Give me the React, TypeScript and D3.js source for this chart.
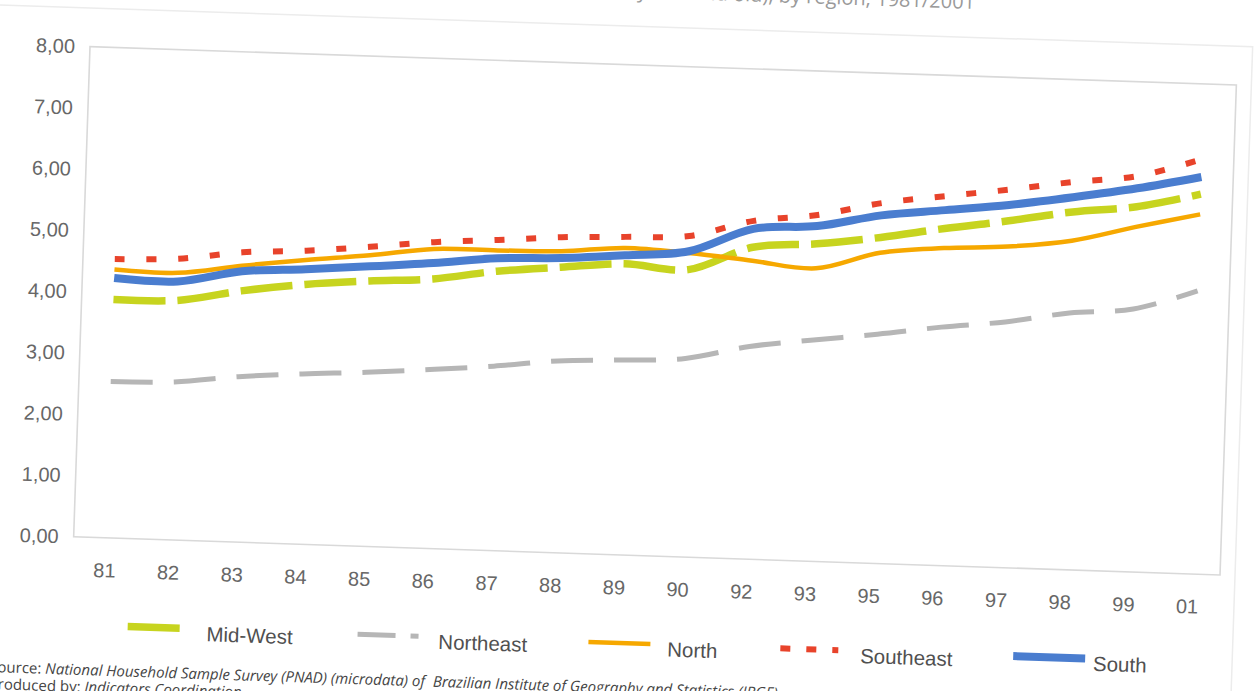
import React from "react";
import * as d3 from "d3";

// Survey years (two-digit labels as printed on the axis)
const years = ["81", "82", "83", "84", "85", "86", "87", "88", "89", "90", "92", "93", "95", "96", "97", "98", "99", "01"];

// Series values by region
const midWest = [3.89, 3.91, 4.10, 4.24, 4.33, 4.40, 4.56, 4.66, 4.75, 4.69, 5.09, 5.18, 5.32, 5.50, 5.66, 5.84, 5.96, 6.20];
const northeast = [2.55, 2.58, 2.70, 2.78, 2.84, 2.92, 3.01, 3.13, 3.18, 3.24, 3.47, 3.61, 3.74, 3.89, 4.01, 4.19, 4.29, 4.62];
const north = [4.38, 4.36, 4.51, 4.64, 4.75, 4.89, 4.90, 4.92, 5.01, 4.96, 4.87, 4.78, 5.07, 5.18, 5.24, 5.37, 5.63, 5.87];
const southeast = [4.55, 4.59, 4.73, 4.79, 4.89, 5.00, 5.07, 5.15, 5.19, 5.24, 5.52, 5.65, 5.88, 6.03, 6.17, 6.33, 6.46, 6.77];
const south = [4.24, 4.22, 4.42, 4.49, 4.57, 4.66, 4.77, 4.81, 4.89, 4.99, 5.39, 5.47, 5.68, 5.80, 5.92, 6.08, 6.26, 6.48];

const yTicks = [0, 1, 2, 3, 4, 5, 6, 7, 8];

const titleText = "years and old), by region, 1981/2001";
const sourceLabel = "Source:";
const sourceText = " National Household Sample Survey (PNAD) (microdata) of  Brazilian Institute of Geography and Statistics (IBGE).";
const producedLabel = "Produced by:";
const producedText = " Indicators Coordination";

const W = 1259;
const H = 691;
const TILT = 1.91; // the printed page sits slightly askew
const plot = { left: 90, top: 46.7, width: 1147, height: 490.3 };

const series = [
  { name: "Mid-West", values: midWest, color: "#c7d41f", width: 7.5, dash: "52,12" },
  { name: "Northeast", values: northeast, color: "#b6b6b6", width: 5, dash: "42,21" },
  { name: "North", values: north, color: "#f6a800", width: 4.5, dash: null },
  { name: "Southeast", values: southeast, color: "#e8432b", width: 6, dash: "10,21.7" },
  { name: "South", values: south, color: "#4a7dcf", width: 8, dash: null },
];

// Legend row layout: swatch start/end and label start
const legendLayout = [
  { x0: 147, x1: 199, tx: 226, dash: null as string | null },
  { x0: 377, x1: 438, tx: 458, dash: "38,15" },
  { x0: 608, x1: 670, tx: 687, dash: null },
  { x0: 800, x1: 858, tx: 880, dash: "10,16" },
  { x0: 1033, x1: 1105, tx: 1113, dash: null },
];

const ptBR = d3.formatLocale({ decimal: ",", thousands: ".", grouping: [3], currency: ["R$", ""] });
const fmt = ptBR.format(".2f");

export default function App() {
  const x = d3
    .scalePoint<string>()
    .domain(years)
    .range([plot.left, plot.left + plot.width])
    .padding(0.5);
  const y = d3
    .scaleLinear()
    .domain([0, 8])
    .range([plot.top + plot.height, plot.top]);

  const line = d3
    .line<number>()
    .x((_, i) => x(years[i]) as number)
    .y((d) => y(d))
    .curve(d3.curveCatmullRom.alpha(0.5));

  const axisFont = "'Liberation Sans', Arial, sans-serif";
  const noteFont = "'Open Sans', 'Noto Sans', sans-serif";

  return (
    <svg
      width={W}
      height={H}
      viewBox={`0 0 ${W} ${H}`}
      style={{ position: "absolute", left: 0, top: 0, background: "#fff" }}
    >
      <rect x={0} y={0} width={W} height={H} fill="#fff" />
      <g transform={`rotate(${TILT}, ${plot.left}, ${plot.top})`}>
        {/* title, mostly above the visible page */}
        <text
          x={973}
          y={-20.5}
          textAnchor="end"
          fontFamily={noteFont}
          fontSize={20}
          fill="#9a9a9a"
        >
          {titleText}
        </text>

        {/* chart area frame */}
        <rect x={-20} y={8} width={1272} height={720} fill="none" stroke="#ececec" strokeWidth={1.5} />

        {/* plot area */}
        <rect
          x={plot.left}
          y={plot.top}
          width={plot.width}
          height={plot.height}
          fill="#fff"
          stroke="#d9d9d9"
          strokeWidth={1.6}
        />

        {/* y axis labels */}
        {yTicks.map((t) => (
          <text
            key={t}
            x={plot.left - 15}
            y={y(t) + 7}
            textAnchor="end"
            fontFamily={axisFont}
            fontSize={20}
            fill="#676767"
          >
            {fmt(t)}
          </text>
        ))}

        {/* x axis labels */}
        {years.map((yr) => (
          <text
            key={yr}
            x={x(yr)}
            y={plot.top + plot.height + 39.5}
            textAnchor="middle"
            fontFamily={axisFont}
            fontSize={20}
            fill="#676767"
          >
            {yr}
          </text>
        ))}

        {/* series */}
        <g fill="none" strokeLinejoin="round">
          {series.map((s) => (
            <path
              key={s.name}
              d={line(s.values) || ""}
              stroke={s.color}
              strokeWidth={s.width}
              strokeDasharray={s.dash || undefined}
              strokeLinecap="butt"
            />
          ))}
        </g>

        {/* legend */}
        {series.map((s, i) => {
          const l = legendLayout[i];
          return (
            <g key={s.name}>
              <line
                x1={l.x0}
                x2={l.x1}
                y1={625}
                y2={625}
                stroke={s.color}
                strokeWidth={s.width}
                strokeDasharray={l.dash || undefined}
              />
              <text x={l.tx} y={637} fontFamily={axisFont} fontSize={20.5} fill="#505050">
                {s.name}
              </text>
            </g>
          );
        })}

        {/* source notes */}
        <text x={10} y={675} fontFamily={noteFont} fontSize={15} fill="#444" style={{ whiteSpace: "pre" }}>
          <tspan>{sourceLabel}</tspan>
          <tspan fontStyle="italic">{sourceText}</tspan>
        </text>
        <text x={10} y={692} fontFamily={noteFont} fontSize={15} fill="#444" style={{ whiteSpace: "pre" }}>
          <tspan>{producedLabel}</tspan>
          <tspan fontStyle="italic">{producedText}</tspan>
        </text>
      </g>
    </svg>
  );
}
